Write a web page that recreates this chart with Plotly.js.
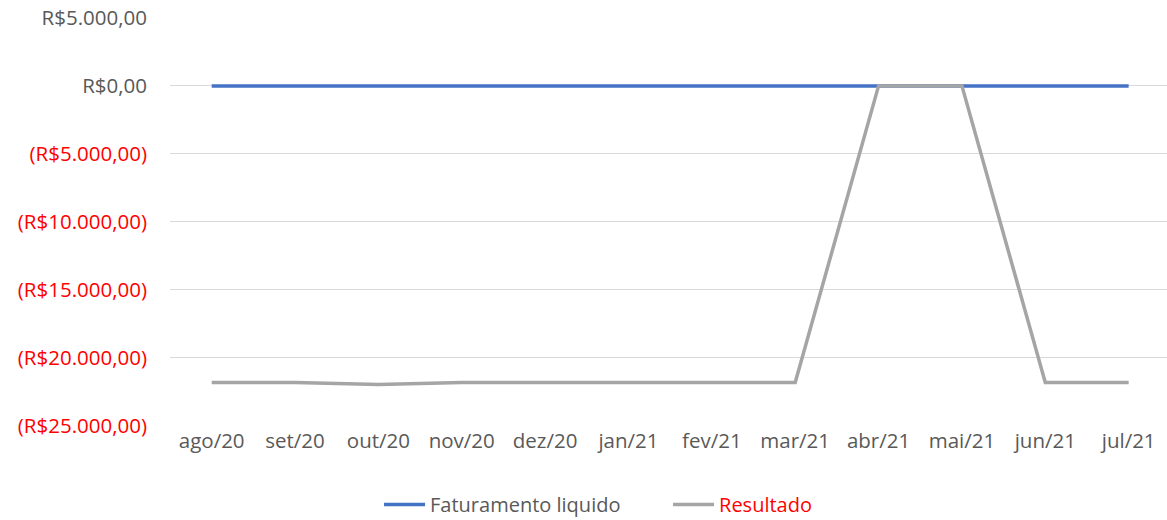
<!DOCTYPE html>
<html>
<head>
<meta charset="utf-8">
<script src="https://cdn.plot.ly/plotly-3.0.1.min.js"></script>
<style>html,body{margin:0;padding:0;background:#fff;}#chart{width:1167px;height:520px;}</style>
</head>
<body>
<div id="chart"></div>
<script>
const months = ["ago/20","set/20","out/20","nov/20","dez/20","jan/21","fev/21","mar/21","abr/21","mai/21","jun/21","jul/21"];
const faturamento = [0,0,0,0,0,0,0,0,0,0,0,0];
const resultado = [-21850,-21850,-22000,-21850,-21850,-21850,-21850,-21850,0,0,-21850,-21850];
const yTickVals = [5000,0,-5000,-10000,-15000,-20000,-25000];
const yTickText = ["R$5.000,00","R$0,00","(R$5.000,00)","(R$10.000,00)","(R$15.000,00)","(R$20.000,00)","(R$25.000,00)"];

const idx = months.map((_, i) => i);
const ticktext = yTickText.map((t, i) => yTickVals[i] < 0 ? '<span style="color:#FF0000">' + t + '</span>' : t);

const traces = [
  {x: idx, y: faturamento, type: 'scatter', mode: 'lines', name: 'Faturamento liquido',
   line: {color: '#4472C4', width: 3.5}},
  {x: idx, y: resultado, type: 'scatter', mode: 'lines', name: '<span style="color:#FF0000">Resultado</span>',
   line: {color: '#A5A5A5', width: 3.5}}
];

const layout = {
  width: 1167, height: 520,
  margin: {l: 170, r: 0, t: 18, b: 94},
  paper_bgcolor: '#ffffff', plot_bgcolor: '#ffffff',
  font: {family: '"Open Sans", sans-serif', size: 20.5, color: '#595959'},
  showlegend: true,
  legend: {orientation: 'h', x: 0.3248, xref: 'container', xanchor: 'left', y: 0.03, yref: 'container', yanchor: 'middle',
           font: {size: 20, color: '#595959'}, itemwidth: 41, entrywidth: 233, entrywidthmode: 'pixels', tracegroupgap: 0},
  xaxis: {
    range: [-0.5, 11.46], tickvals: idx, ticktext: months, showgrid: false,
    zeroline: false, showline: false, ticks: '', tickfont: {size: 20.5, color: '#595959'}
  },
  yaxis: {
    range: [-25050, 5000], tickvals: yTickVals, ticktext: ticktext,
    showgrid: true, gridcolor: '#D9D9D9', gridwidth: 1, zeroline: false, showline: false,
    ticks: '', ticklabelstandoff: 22, tickfont: {size: 20.5, color: '#595959'}
  }
};

Plotly.newPlot('chart', traces, layout, {displayModeBar: false, staticPlot: true});
</script>
</body>
</html>
